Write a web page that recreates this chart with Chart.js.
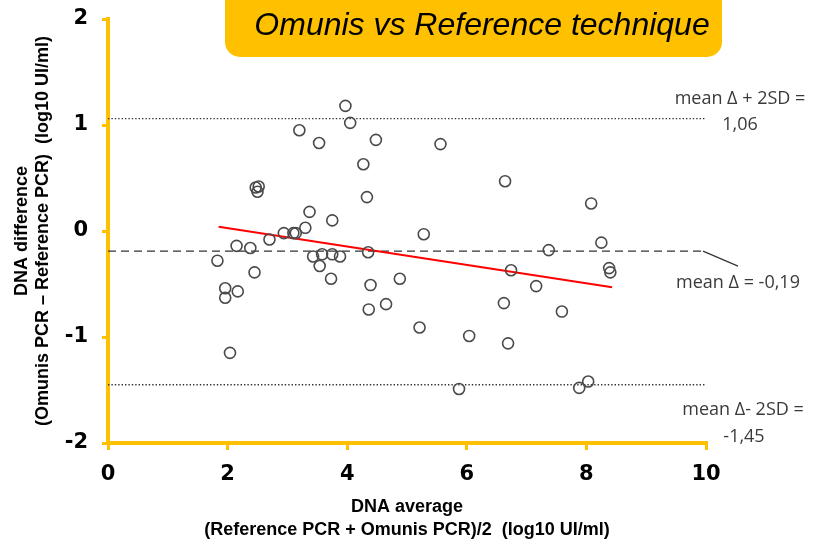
<!DOCTYPE html>
<html>
<head>
<meta charset="utf-8">
<title>Omunis vs Reference technique</title>
<script src="https://cdn.jsdelivr.net/npm/chart.js@4.4.0/dist/chart.umd.min.js"></script>
<style>
    body { margin: 0; background: #ffffff; }
    #blandAltmanDiv { width: 817px; height: 545px; }
</style>
</head>
<body>
<div id="blandAltmanDiv">
    <canvas id="blandAltman" width="817" height="545"></canvas>
</div>
<script>
// DNA average (x) and DNA difference (y) for each sample
var avgValues = [3.97, 4.05, 3.20, 3.53, 4.48, 5.56, 4.27, 6.64, 2.47, 2.52,
                 2.50, 4.33, 8.08, 3.37, 3.75, 3.30, 2.94, 3.10, 3.14, 5.28,
                 2.70, 8.25, 2.15, 2.38, 7.37, 4.35, 3.58, 3.75, 3.43, 3.88,
                 1.83, 3.54, 8.38, 6.74, 2.45, 8.40, 3.73, 4.88, 4.39, 7.16,
                 1.96, 2.17, 1.96, 6.62, 4.65, 4.36, 7.59, 5.21, 6.04, 6.69,
                 2.04, 8.03, 7.88, 5.87];
var diffValues = [1.18, 1.02, 0.95, 0.83, 0.86, 0.82, 0.63, 0.47, 0.41, 0.42,
                  0.37, 0.32, 0.26, 0.18, 0.10, 0.03, -0.02, -0.02, -0.02, -0.03,
                  -0.08, -0.11, -0.14, -0.16, -0.18, -0.20, -0.22, -0.22, -0.24, -0.24,
                  -0.28, -0.33, -0.35, -0.37, -0.39, -0.39, -0.45, -0.45, -0.51, -0.52,
                  -0.54, -0.57, -0.63, -0.68, -0.69, -0.74, -0.76, -0.91, -0.99, -1.06,
                  -1.15, -1.42, -1.48, -1.49];

// regression line end points
var trendX = [1.85, 8.43];
var trendY = [0.04, -0.53];

// mean difference and limits of agreement
var meanDiff = -0.19;
var upperLimit = 1.06;
var lowerLimit = -1.45;
var limitX = [0, 10];

var upperLabel = ['mean \u0394 + 2SD =', '1,06'];
var meanLabel = 'mean \u0394 = -0,19';
var lowerLabel = ['mean \u0394- 2SD =', '-1,45'];
var chartTitle = 'Omunis vs Reference technique';

var xTitle = ['DNA average', '(Reference PCR + Omunis PCR)/2  (log10 UI/ml)'];
var yTitle = ['DNA difference', '(Omunis PCR \u2013 Reference PCR)  (log10 UI/ml)'];

var axisColor = '#FFC000';

function toPoints(xs, ys) {
    let pts = [];
    for (var i = 0; i < xs.length; i++) {
        pts.push({ x: xs[i], y: ys[i] });
    }
    return pts;
}

function hLine(value) {
    return [{ x: limitX[0], y: value }, { x: limitX[1], y: value }];
}

/* draws the orange title box and the labels beside the reference lines */
var extrasPlugin = {
    id: 'extras',
    afterDraw: function (chart) {
        let ctx = chart.ctx;
        let xs = chart.scales.x;
        let ys = chart.scales.y;
        let right = xs.getPixelForValue(limitX[1]);

        ctx.save();
        // title box
        ctx.fillStyle = axisColor;
        ctx.beginPath();
        ctx.roundRect(225, -20, 497, 77, 15);
        ctx.fill();
        ctx.fillStyle = '#000000';
        ctx.font = 'italic 32px "Liberation Sans", Arial, sans-serif';
        ctx.textAlign = 'center';
        ctx.textBaseline = 'alphabetic';
        ctx.fillText(chartTitle, 482, 35);

        // limit labels
        ctx.fillStyle = '#3a3a3a';
        ctx.font = '18px "Open Sans", sans-serif';
        ctx.textBaseline = 'middle';
        let yUp = ys.getPixelForValue(upperLimit);
        ctx.fillText(upperLabel[0], right + 34, yUp - 20);
        ctx.fillText(upperLabel[1], right + 34, yUp + 6);

        let yMean = ys.getPixelForValue(meanDiff);
        ctx.fillText(meanLabel, right + 32, yMean + 32);

        let yLow = ys.getPixelForValue(lowerLimit);
        ctx.fillText(lowerLabel[0], right + 37, yLow + 25);
        ctx.fillText(lowerLabel[1], right + 38, yLow + 52);

        // leader from dashed line to its label
        ctx.strokeStyle = '#333333';
        ctx.lineWidth = 1.2;
        ctx.beginPath();
        ctx.moveTo(right - 3, yMean);
        ctx.lineTo(right + 32, yMean + 15);
        ctx.stroke();
        ctx.restore();
    }
};

function drawChart() {
    var ctx = document.getElementById('blandAltman');
    var chart = new Chart(ctx, {
        data: {
            datasets: [
                {
                    type: 'scatter',
                    label: 'Samples',
                    data: toPoints(avgValues, diffValues),
                    pointRadius: 5.5,
                    pointStyle: 'circle',
                    backgroundColor: 'rgba(0,0,0,0)',
                    borderColor: '#4a4a4a',
                    borderWidth: 1.6
                }, {
                    type: 'line',
                    label: 'Trend',
                    data: toPoints(trendX, trendY),
                    borderColor: '#ff0000',
                    borderWidth: 2,
                    pointRadius: 0
                }, {
                    type: 'line',
                    label: 'Upper',
                    data: hLine(upperLimit),
                    borderColor: '#333333',
                    borderWidth: 1.4,
                    borderDash: [1.4, 2],
                    pointRadius: 0
                }, {
                    type: 'line',
                    label: 'Mean',
                    data: hLine(meanDiff),
                    borderColor: '#333333',
                    borderWidth: 1.3,
                    borderDash: [8, 5],
                    pointRadius: 0
                }, {
                    type: 'line',
                    label: 'Lower',
                    data: hLine(lowerLimit),
                    borderColor: '#333333',
                    borderWidth: 1.4,
                    borderDash: [1.4, 2],
                    pointRadius: 0
                }
            ]
        },
        options: {
            responsive: false,
            animation: false,
            layout: {
                padding: { top: 19, right: 111, bottom: 0, left: 0 }
            },
            plugins: {
                legend: { display: false },
                tooltip: { enabled: false }
            },
            scales: {
                x: {
                    type: 'linear',
                    min: 0,
                    max: 10,
                    afterFit: function (scale) { scale.height = 102; },
                    ticks: {
                        stepSize: 2,
                        color: '#000000',
                        padding: 12,
                        font: { family: 'DejaVu Sans', weight: 'bold', size: 21 }
                    },
                    grid: {
                        drawOnChartArea: false,
                        drawTicks: true,
                        tickLength: 7,
                        color: axisColor,
                        lineWidth: 3
                    },
                    border: { display: true, color: axisColor, width: 4 },
                    title: {
                        display: true,
                        text: xTitle,
                        color: '#000000',
                        padding: { top: 0, bottom: 3 },
                        font: { family: 'Liberation Sans', weight: 'bold', size: 18, lineHeight: 1.3 }
                    }
                },
                y: {
                    type: 'linear',
                    min: -2,
                    max: 2,
                    afterFit: function (scale) {
                        scale.width = 108;
                        // the tick padding would otherwise push the plot top down
                        scale.paddingTop = 0;
                    },
                    ticks: {
                        stepSize: 1,
                        color: '#000000',
                        padding: 14,
                        font: { family: 'DejaVu Sans', weight: 'bold', size: 21 }
                    },
                    grid: {
                        drawOnChartArea: false,
                        drawTicks: true,
                        tickLength: 6,
                        color: axisColor,
                        lineWidth: 3
                    },
                    border: { display: true, color: axisColor, width: 4 },
                    title: {
                        display: true,
                        text: yTitle,
                        color: '#000000',
                        padding: { top: 11, bottom: 0 },
                        font: { family: 'Liberation Sans', weight: 'bold', size: 18, lineHeight: 1.2 }
                    }
                }
            }
        },
        plugins: [extrasPlugin]
    });
}

document.addEventListener('DOMContentLoaded', (event) => {
    drawChart();
});
</script>
</body>
</html>
